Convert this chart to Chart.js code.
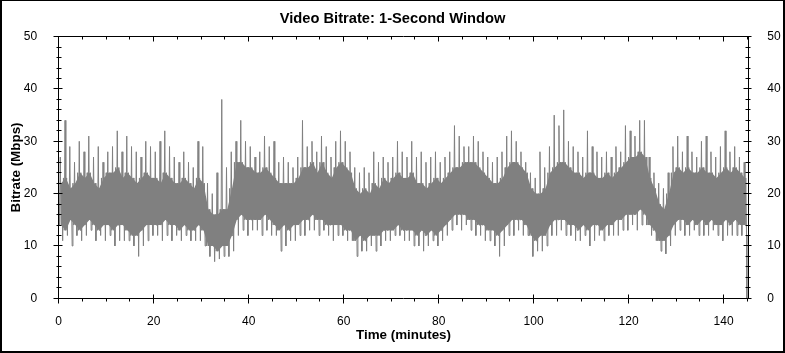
<!DOCTYPE html>
<html>
<head>
<meta charset="utf-8">
<script src="https://cdn.jsdelivr.net/npm/chart.js@4.4.1/dist/chart.umd.min.js"></script>
<style>
  html, body { margin: 0; padding: 0; background: #fff; }
  canvas { display: block; }
</style>
</head>
<body>
<canvas id="bitrateChart" width="785" height="353"></canvas>
<script>
// 1分ごとの読み取り値 (Mbps): 上側スパイク / 密集帯上端 / 密集帯下端 / 下側スパイク
const spikeHi = [
  27, 34, 29, 26, 30, 28, 31, 27, 29, 26,
  28, 29, 32, 28, 31, 29, 28, 27, 30, 29,
  28, 30, 32, 29, 27, 26, 28, 26, 25, 30,
  29, 22, 20, 24, 38, 25, 28, 30, 34, 30,
  29, 27, 28, 31, 29, 30, 26, 27, 26, 25,
  27, 34, 29, 30, 28, 31, 29, 27, 30, 32,
  30, 28, 25, 24, 25, 24, 28, 26, 27, 26,
  27, 30, 28,
  27, 30, 27, 28, 26, 27, 28, 26, 27, 28, 33, 31, 29, 29, 31, 30, 28, 27, 26, 27, 28, 31, 32, 30, 28,
  26, 24, 23, 28, 25, 29, 35, 33, 36, 30, 29, 28, 27, 32, 29, 28, 27, 28, 27, 29, 28, 33, 32, 31,
  34, 34, 27, 24, 22, 21, 24, 29, 31, 28, 31, 28, 27, 30, 31, 28, 27, 29, 32, 28, 29, 27, 26
];
const coreHi = [
  22, 23, 21, 22, 24, 23, 24, 22, 21, 23,
  24, 24, 25, 23, 24, 23, 22, 23, 24, 23,
  23, 22, 24, 23, 22, 22, 23, 22, 21, 23,
  22, 17, 16, 16, 17, 17, 21, 26, 26, 25,
  25, 24, 24, 25, 24, 23, 22, 22, 22, 22,
  23, 25, 25, 26, 24, 26, 24, 23, 25, 26,
  25, 24, 21, 20, 21, 20, 22, 21, 23, 22,
  23, 24, 23,
  23, 24, 22, 22, 21, 22, 23, 22, 23, 24, 25, 25, 26, 26, 26, 25, 24, 23, 22, 22, 23, 25, 26, 26, 25,
  24, 21, 20, 20, 21, 24, 25, 26, 26, 25, 24, 24, 23, 24, 24, 23, 23, 24, 23, 24, 25, 26, 27, 27,
  28, 27, 23, 21, 18, 17, 20, 24, 25, 24, 25, 24, 24, 25, 24, 24, 23, 24, 25, 24, 25, 24, 23
];
const coreLo = [
  14, 13, 15, 14, 13, 14, 15, 14, 13, 14,
  14, 13, 14, 14, 13, 12, 12, 13, 14, 14,
  14, 14, 15, 14, 14, 13, 14, 13, 13, 14,
  13, 10, 10, 9, 10, 10, 12, 15, 16, 15,
  15, 15, 15, 16, 15, 14, 13, 14, 13, 14,
  14, 15, 15, 16, 15, 15, 14, 14, 14, 14,
  13, 13, 11, 12, 11, 12, 12, 12, 13, 13,
  13, 14, 13,
  13, 13, 12, 13, 12, 13, 12, 13, 14, 15, 16, 16, 16, 15, 15, 14, 14, 13, 13, 12, 13, 14, 15, 15, 15,
  14, 12, 11, 12, 12, 14, 15, 15, 15, 14, 14, 13, 14, 13, 14, 14, 13, 14, 14, 15, 15, 16, 16, 16,
  17, 16, 14, 13, 11, 11, 12, 14, 15, 15, 14, 15, 14, 15, 14, 15, 14, 14, 15, 14, 15, 14, 14
];
const spikeLo = [
  11, 12, 10, 12, 11, 12, 13, 11, 12, 11,
  12, 10, 11, 11, 11, 10, 8, 10, 11, 12,
  12, 11, 12, 11, 12, 11, 12, 11, 11, 11,
  10, 8, 7, 7.5, 8, 8, 9, 12, 13, 12,
  13, 13, 12, 13, 12, 12, 9, 10, 11, 11,
  12, 12, 13, 13, 12, 13, 12, 11, 12, 12,
  11, 11, 8, 9, 9, 10, 9, 10, 11, 11,
  12, 12, 11,
  11, 10, 10, 9, 10, 11, 10, 11, 12, 13, 14, 13, 14, 13, 12, 12, 11, 11, 10, 8, 10, 12, 12, 13, 12,
  12, 8, 9, 9, 10, 12, 12, 13, 12, 12, 11, 11, 12, 10, 11, 12, 11, 12, 12, 12, 13, 13, 14, 13,
  14, 14, 12, 11, 9, 8.5, 10, 12, 13, 12, 12, 13, 12, 12, 12, 13, 12, 11, 12, 12, 12, 12, 12
];
// 終端 (分, Mbps)
const tailTime = [144.9];
const tailRate = [0];

const xTicks = [0, 20, 40, 60, 80, 100, 120, 140];
const yTicks = [0, 10, 20, 30, 40, 50];

// 密集帯 (各分の中央)
const bandLo = coreLo.map((v, m) => ({ x: m + 0.5, y: v }));
const bandHi = coreHi.map((v, m) => ({ x: m + 0.5, y: v }));

// 1分の中を6点でたどる
const points = [];
for (let m = 0; m < coreHi.length; m++) {
  const seq = [coreHi[m], coreLo[m], spikeHi[m], coreLo[m], coreHi[m], spikeLo[m]];
  seq.forEach((v, k) => points.push({ x: m + k / seq.length, y: v }));
}
tailTime.forEach((t, i) => points.push({ x: t, y: tailRate[i] }));

// 枠と目盛り
const framePlugin = {
  id: "framePlugin",
  afterDraw(chart) {
    const { ctx, chartArea: a, scales } = chart;
    const L = Math.floor(a.left) + 0.5;
    const R = Math.floor(a.right) + 0.5;
    const T = Math.floor(a.top) + 0.5;
    const B = Math.floor(a.bottom) + 0.5;
    ctx.save();
    ctx.strokeStyle = "#000";
    ctx.lineWidth = 1;
    ctx.beginPath();
    ctx.moveTo(L, T); ctx.lineTo(R, T); ctx.lineTo(R, B); ctx.lineTo(L, B); ctx.closePath();

    for (let v = 0; v <= 50; v += 2) {
      const y = Math.floor(scales.y.getPixelForValue(v)) + 0.5;
      const major = v % 10 === 0;
      ctx.moveTo(L - (major ? 5 : 2), y); ctx.lineTo(L + (major ? 4 : 3), y);
      ctx.moveTo(R - (major ? 5 : 3), y); ctx.lineTo(R + (major ? 3 : 2), y);
    }
    for (let t = 0; t <= 145; t += 5) {
      const x = Math.floor(scales.x.getPixelForValue(t)) + 0.5;
      const major = t % 20 === 0;
      ctx.moveTo(x, B - (major ? 4 : 0)); ctx.lineTo(x, B + (major ? 5 : 3));
      ctx.moveTo(x, T); ctx.lineTo(x, T + (major ? 5 : 3));
    }
    ctx.stroke();

    // 外枠
    ctx.fillStyle = "#000";
    const W = chart.width, H = chart.height;
    ctx.fillRect(0, 0, W, 1);
    ctx.fillRect(0, 0, 2, H);
    ctx.fillRect(W - 2, 0, 2, H);
    ctx.fillRect(0, H - 2, W, 2);
    ctx.restore();
  },
};

const labelFont = { family: "'Liberation Sans', Arial, sans-serif", size: 12 };
const titleFont = { family: "'Liberation Sans', Arial, sans-serif", size: 13.4, weight: "bold" };

new Chart(document.getElementById("bitrateChart"), {
  type: "line",
  data: {
    datasets: [
      {
        label: "Video Bitrate",
        data: points,
        borderColor: "#808080",
        borderWidth: 1,
        pointRadius: 0,
        tension: 0,
        fill: false,
        order: 0,
      },
      {
        label: "band-lo",
        data: bandLo,
        borderWidth: 0,
        borderColor: "rgba(0,0,0,0)",
        pointRadius: 0,
        fill: false,
        order: 2,
      },
      {
        label: "band-hi",
        data: bandHi,
        borderWidth: 0,
        borderColor: "rgba(0,0,0,0)",
        backgroundColor: "#808080",
        pointRadius: 0,
        fill: "-1",
        order: 1,
      },
    ],
  },
  options: {
    responsive: false,
    animation: false,
    devicePixelRatio: 1,
    events: [],
    layout: { padding: 0 },
    plugins: {
      legend: { display: false },
      tooltip: { enabled: false },
      title: {
        display: true,
        text: "Video Bitrate: 1-Second Window",
        color: "#000",
        font: { family: "'Liberation Sans', Arial, sans-serif", size: 14.7, weight: "bold" },
        padding: { top: 10, bottom: 9 },
      },
    },
    scales: {
      x: {
        type: "linear",
        min: 0,
        max: 145.2,
        afterFit: (s) => { s.height = 54.7; },
        afterBuildTicks: (s) => { s.ticks = xTicks.map((v) => ({ value: v })); },
        grid: { display: false },
        border: { display: false },
        ticks: { color: "#000", font: labelFont, padding: 8.5, maxRotation: 0, autoSkip: false },
        title: {
          display: true,
          text: "Time (minutes)",
          color: "#000",
          font: titleFont,
          padding: { top: 0, bottom: 10 },
        },
      },
      y: {
        position: "left",
        min: 0,
        max: 50,
        afterFit: (s) => { s.width = 58.7; },
        afterBuildTicks: (s) => { s.ticks = yTicks.map((v) => ({ value: v })); },
        grid: { display: false },
        border: { display: false },
        ticks: { color: "#000", font: labelFont, padding: 13.5 },
        title: {
          display: true,
          text: "Bitrate (Mbps)",
          color: "#000",
          font: titleFont,
          padding: { top: 8.5, bottom: 0 },
        },
      },
      y2: {
        position: "right",
        min: 0,
        max: 50,
        afterFit: (s) => { s.width = 36.7; },
        afterBuildTicks: (s) => { s.ticks = yTicks.map((v) => ({ value: v })); },
        grid: { display: false },
        border: { display: false },
        ticks: { color: "#000", font: labelFont, padding: 11 },
      },
    },
  },
  plugins: [framePlugin],
});
</script>
</body>
</html>
